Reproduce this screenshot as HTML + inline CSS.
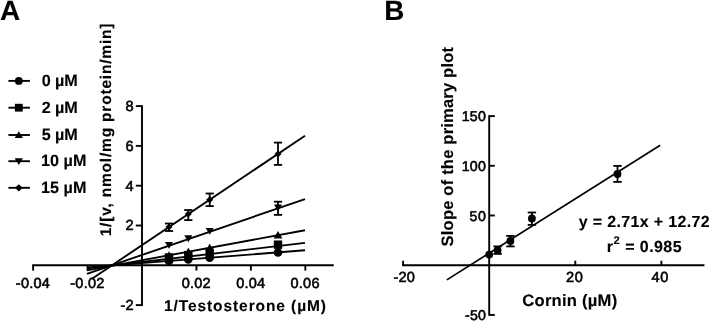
<!DOCTYPE html>
<html lang="en"><head><meta charset="utf-8"><title>Figure</title>
<style>
html,body{margin:0;padding:0;background:#fff;}
body{width:709px;height:321px;overflow:hidden;}
svg{display:block;will-change:transform;}
svg text{font-family:"Liberation Sans",Arial,Helvetica,sans-serif;font-weight:bold;fill:#000;text-rendering:geometricPrecision;stroke:#000;stroke-width:0.12px;}
svg text.tk{font-weight:normal;stroke-width:0.6px;}
svg line{stroke:#000;}
</style></head><body>
<svg width="709" height="321" viewBox="0 0 709 321">
<rect x="0" y="0" width="709" height="321" fill="#fff"/>
<g id="panelA">
<text x="0.1" y="20.3" font-size="28.0" textLength="20.0" lengthAdjust="spacing">A</text>
<line x1="8.40" y1="80.90" x2="29.90" y2="80.90" stroke-width="1.9"/>
<circle cx="18.80" cy="80.90" r="3.9"/>
<text x="41.8" y="86.10000000000001" font-size="16.2" textLength="36.0" lengthAdjust="spacing">0 µM</text>
<line x1="8.40" y1="107.70" x2="29.90" y2="107.70" stroke-width="1.9"/>
<rect x="14.90" y="103.80" width="7.8" height="7.8"/>
<text x="41.8" y="112.9" font-size="16.2" textLength="36.0" lengthAdjust="spacing">2 µM</text>
<line x1="8.40" y1="135.00" x2="29.90" y2="135.00" stroke-width="1.9"/>
<polygon points="18.80,131.26 22.90,138.06 14.70,138.06"/>
<text x="41.8" y="140.2" font-size="16.2" textLength="36.0" lengthAdjust="spacing">5 µM</text>
<line x1="8.40" y1="161.20" x2="29.90" y2="161.20" stroke-width="1.9"/>
<polygon points="18.80,164.94 22.90,158.14 14.70,158.14"/>
<text x="41.0" y="166.39999999999998" font-size="16.2" textLength="45.4" lengthAdjust="spacing">10 µM</text>
<line x1="8.40" y1="187.80" x2="29.90" y2="187.80" stroke-width="1.9"/>
<polygon points="18.80,184.20 22.60,187.80 18.80,191.40 15.00,187.80"/>
<text x="41.0" y="193.0" font-size="16.2" textLength="45.4" lengthAdjust="spacing">15 µM</text>
<line x1="32.17" y1="265.30" x2="333.74" y2="265.30" stroke-width="1.9"/>
<line x1="142.00" y1="105.15" x2="142.00" y2="306.05" stroke-width="1.9"/>
<line x1="33.12" y1="265.30" x2="33.12" y2="270.60" stroke-width="1.9"/>
<text x="32.82000000000001" y="287.6" font-size="14.5" text-anchor="middle" textLength="34.0" lengthAdjust="spacing" class="tk">-0.04</text>
<line x1="87.56" y1="265.30" x2="87.56" y2="270.60" stroke-width="1.9"/>
<text x="87.26" y="287.6" font-size="14.5" text-anchor="middle" textLength="34.0" lengthAdjust="spacing" class="tk">-0.02</text>
<line x1="196.44" y1="265.30" x2="196.44" y2="270.60" stroke-width="1.9"/>
<text x="196.14" y="287.6" font-size="14.5" text-anchor="middle" textLength="28.9" lengthAdjust="spacing" class="tk">0.02</text>
<line x1="250.88" y1="265.30" x2="250.88" y2="270.60" stroke-width="1.9"/>
<text x="250.57999999999998" y="287.6" font-size="14.5" text-anchor="middle" textLength="28.9" lengthAdjust="spacing" class="tk">0.04</text>
<line x1="305.32" y1="265.30" x2="305.32" y2="270.60" stroke-width="1.9"/>
<text x="305.02" y="287.6" font-size="14.5" text-anchor="middle" textLength="28.9" lengthAdjust="spacing" class="tk">0.06</text>
<line x1="135.80" y1="106.10" x2="142.00" y2="106.10" stroke-width="1.9"/>
<text x="133.6" y="111.00000000000003" font-size="14.6" text-anchor="end" class="tk">8</text>
<line x1="135.80" y1="145.90" x2="142.00" y2="145.90" stroke-width="1.9"/>
<text x="133.6" y="150.80000000000004" font-size="14.6" text-anchor="end" class="tk">6</text>
<line x1="135.80" y1="185.70" x2="142.00" y2="185.70" stroke-width="1.9"/>
<text x="133.6" y="190.60000000000002" font-size="14.6" text-anchor="end" class="tk">4</text>
<line x1="135.80" y1="225.50" x2="142.00" y2="225.50" stroke-width="1.9"/>
<text x="133.6" y="230.4" font-size="14.6" text-anchor="end" class="tk">2</text>
<line x1="135.80" y1="305.10" x2="142.00" y2="305.10" stroke-width="1.9"/>
<text x="133.6" y="310.0" font-size="14.6" text-anchor="end" class="tk">-2</text>
<text x="164.0" y="310.9" font-size="15.5" textLength="162.0" lengthAdjust="spacing">1/Testosterone (µM)</text>
<text transform="translate(110.8,236.3) rotate(-90)" font-size="15.5" textLength="212.8" lengthAdjust="spacing">1/[v, nmol/mg protein/min]</text>
<line x1="92.00" y1="278.70" x2="305.00" y2="135.80" stroke-width="1.9"/>
<line x1="87.00" y1="273.80" x2="305.00" y2="199.10" stroke-width="1.9"/>
<line x1="87.00" y1="270.40" x2="305.00" y2="230.20" stroke-width="1.9"/>
<line x1="87.00" y1="268.40" x2="305.00" y2="242.90" stroke-width="1.9"/>
<line x1="87.00" y1="267.40" x2="305.00" y2="250.30" stroke-width="1.9"/>
<line x1="169.00" y1="247.10" x2="169.00" y2="251.80" stroke-width="1.6" style="stroke:#fff"/>
<line x1="188.30" y1="241.70" x2="188.30" y2="249.10" stroke-width="1.6" style="stroke:#fff"/>
<line x1="209.70" y1="234.40" x2="209.70" y2="244.40" stroke-width="1.6" style="stroke:#fff"/>
<line x1="169.00" y1="223.50" x2="169.00" y2="231.00" stroke-width="1.8"/>
<line x1="164.90" y1="223.50" x2="173.10" y2="223.50" stroke-width="1.8"/>
<line x1="164.90" y1="231.00" x2="173.10" y2="231.00" stroke-width="1.8"/>
<line x1="188.30" y1="210.00" x2="188.30" y2="220.10" stroke-width="1.8"/>
<line x1="184.20" y1="210.00" x2="192.40" y2="210.00" stroke-width="1.8"/>
<line x1="184.20" y1="220.10" x2="192.40" y2="220.10" stroke-width="1.8"/>
<line x1="209.70" y1="193.50" x2="209.70" y2="206.10" stroke-width="1.8"/>
<line x1="205.60" y1="193.50" x2="213.80" y2="193.50" stroke-width="1.8"/>
<line x1="205.60" y1="206.10" x2="213.80" y2="206.10" stroke-width="1.8"/>
<line x1="278.00" y1="142.60" x2="278.00" y2="164.90" stroke-width="1.8"/>
<line x1="273.90" y1="142.60" x2="282.10" y2="142.60" stroke-width="1.8"/>
<line x1="273.90" y1="164.90" x2="282.10" y2="164.90" stroke-width="1.8"/>
<line x1="278.00" y1="201.70" x2="278.00" y2="214.90" stroke-width="1.8"/>
<line x1="273.90" y1="201.70" x2="282.10" y2="201.70" stroke-width="1.8"/>
<line x1="273.90" y1="214.90" x2="282.10" y2="214.90" stroke-width="1.8"/>
<circle cx="169.00" cy="260.97" r="4.3"/>
<rect x="164.80" y="253.21" width="8.4" height="8.4"/>
<polygon points="169.00,251.21 173.40,258.61 164.60,258.61"/>
<polygon points="169.00,248.74 173.00,241.94 165.00,241.94"/>
<polygon points="169.00,223.54 172.50,227.04 169.00,230.54 165.50,227.04"/>
<circle cx="188.30" cy="259.45" r="4.3"/>
<rect x="184.10" y="250.95" width="8.4" height="8.4"/>
<polygon points="188.30,247.65 192.70,255.05 183.90,255.05"/>
<polygon points="188.30,242.13 192.30,235.33 184.30,235.33"/>
<polygon points="188.30,210.59 191.80,214.09 188.30,217.59 184.80,214.09"/>
<circle cx="209.70" cy="257.78" r="4.3"/>
<rect x="205.50" y="248.45" width="8.4" height="8.4"/>
<polygon points="209.70,243.70 214.10,251.10 205.30,251.10"/>
<polygon points="209.70,234.80 213.70,228.00 205.70,228.00"/>
<polygon points="209.70,196.24 213.20,199.74 209.70,203.24 206.20,199.74"/>
<circle cx="278.00" cy="252.42" r="4.3"/>
<rect x="273.80" y="240.46" width="8.4" height="8.4"/>
<polygon points="278.00,231.11 282.40,238.51 273.60,238.51"/>
<polygon points="278.00,211.39 282.00,204.59 274.00,204.59"/>
<polygon points="278.00,150.41 281.50,153.91 278.00,157.41 274.50,153.91"/>
</g>
<g id="panelB">
<text x="384.3" y="20.0" font-size="27.8">B</text>
<line x1="402.15" y1="265.20" x2="704.45" y2="265.20" stroke-width="1.9"/>
<line x1="489.20" y1="115.15" x2="489.20" y2="315.85" stroke-width="1.9"/>
<line x1="403.10" y1="265.20" x2="403.10" y2="260.70" stroke-width="1.9"/>
<line x1="575.30" y1="265.20" x2="575.30" y2="260.70" stroke-width="1.9"/>
<line x1="661.40" y1="265.20" x2="661.40" y2="260.70" stroke-width="1.9"/>
<line x1="489.20" y1="116.10" x2="494.80" y2="116.10" stroke-width="1.9"/>
<text x="485.8" y="121.1" font-size="14.2" text-anchor="end" textLength="24.0" lengthAdjust="spacing" class="tk">150</text>
<line x1="489.20" y1="165.80" x2="494.80" y2="165.80" stroke-width="1.9"/>
<text x="485.8" y="170.79999999999998" font-size="14.2" text-anchor="end" textLength="24.0" lengthAdjust="spacing" class="tk">100</text>
<line x1="489.20" y1="215.50" x2="494.80" y2="215.50" stroke-width="1.9"/>
<text x="485.8" y="220.5" font-size="14.2" text-anchor="end" textLength="16.2" lengthAdjust="spacing" class="tk">50</text>
<line x1="489.20" y1="314.90" x2="494.80" y2="314.90" stroke-width="1.9"/>
<text x="485.8" y="319.9" font-size="14.2" text-anchor="end" textLength="20.8" lengthAdjust="spacing" class="tk">-50</text>
<text x="393.6" y="281.8" font-size="14.6" textLength="21.2" lengthAdjust="spacing" class="tk">-20</text>
<text x="566.0" y="281.8" font-size="14.6" textLength="16.8" lengthAdjust="spacing" class="tk">20</text>
<text x="651.5" y="281.8" font-size="14.6" textLength="16.8" lengthAdjust="spacing" class="tk">40</text>
<text x="522.3" y="306.3" font-size="16.6" textLength="94.9" lengthAdjust="spacing">Cornin (µM)</text>
<text transform="translate(452.8,246.4) rotate(-90)" font-size="16.5" textLength="199.4" lengthAdjust="spacing">Slope of the primary plot</text>
<line x1="446.80" y1="279.90" x2="660.20" y2="145.30" stroke-width="1.7"/>
<circle cx="489.20" cy="254.60" r="3.9"/>
<line x1="497.60" y1="246.40" x2="497.60" y2="253.90" stroke-width="1.8"/>
<line x1="493.40" y1="246.40" x2="501.80" y2="246.40" stroke-width="1.8"/>
<line x1="493.40" y1="253.90" x2="501.80" y2="253.90" stroke-width="1.8"/>
<circle cx="497.60" cy="250.20" r="3.9"/>
<line x1="510.40" y1="235.90" x2="510.40" y2="246.40" stroke-width="1.8"/>
<line x1="506.20" y1="235.90" x2="514.60" y2="235.90" stroke-width="1.8"/>
<line x1="506.20" y1="246.40" x2="514.60" y2="246.40" stroke-width="1.8"/>
<circle cx="510.40" cy="241.00" r="3.9"/>
<line x1="531.90" y1="212.50" x2="531.90" y2="224.90" stroke-width="1.8"/>
<line x1="527.70" y1="212.50" x2="536.10" y2="212.50" stroke-width="1.8"/>
<line x1="527.70" y1="224.90" x2="536.10" y2="224.90" stroke-width="1.8"/>
<circle cx="531.90" cy="218.40" r="3.9"/>
<line x1="617.50" y1="165.90" x2="617.50" y2="181.90" stroke-width="1.8"/>
<line x1="613.30" y1="165.90" x2="621.70" y2="165.90" stroke-width="1.8"/>
<line x1="613.30" y1="181.90" x2="621.70" y2="181.90" stroke-width="1.8"/>
<circle cx="617.50" cy="174.00" r="3.9"/>
<text x="578.8" y="227.4" font-size="16.0" textLength="130.8" lengthAdjust="spacing">y = 2.71x + 12.72</text>
<text x="606.8" y="251.6" font-size="16.0">r</text>
<text x="613.6" y="243.6" font-size="11.2">2</text>
<text x="625.2" y="251.6" font-size="16.0" textLength="56.4" lengthAdjust="spacing">= 0.985</text>
</g>
</svg>
</body></html>
